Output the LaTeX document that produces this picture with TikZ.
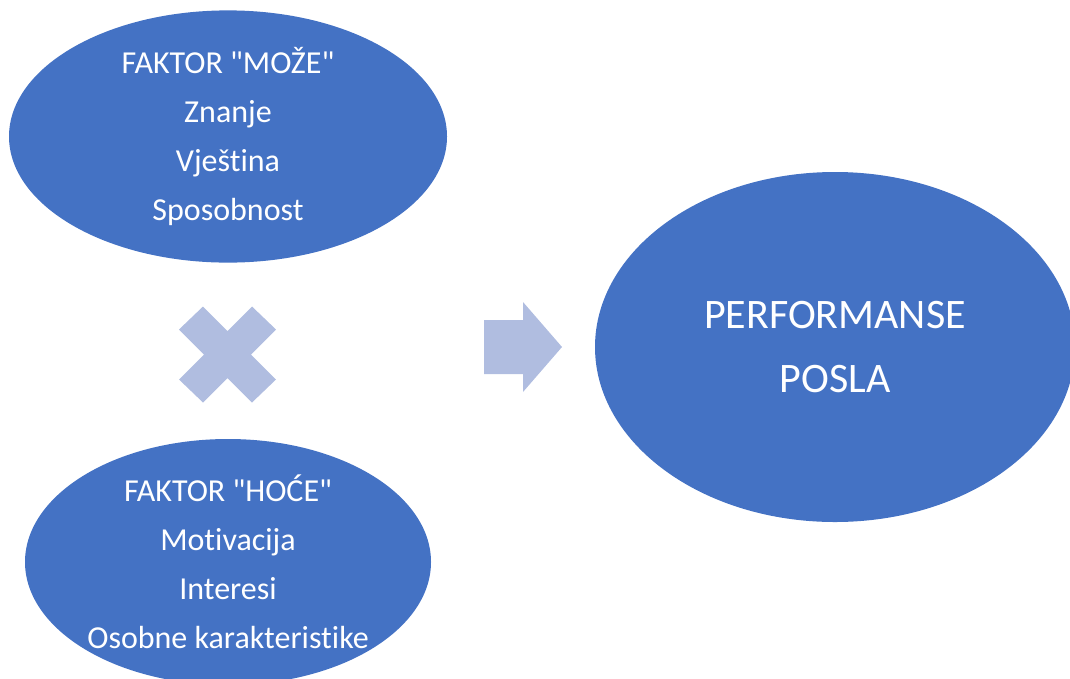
\documentclass[tikz,border=0pt]{standalone}
\usepackage{fontspec}
\setmainfont{Carlito}[Ligatures=NoCommon]
\usepackage{xcolor}
\usetikzlibrary{shapes.geometric}
\definecolor{ovalblue}{HTML}{4472C4}
\definecolor{paleblue}{HTML}{B0BDE0}

\begin{document}
\begin{tikzpicture}[x=1pt,y=-1pt,
  oval/.style={ellipse,fill=ovalblue,text=white,inner sep=0pt,align=center},
  smalltext/.style={font=\fontsize{32}{49}\selectfont},
  bigtext/.style={font=\fontsize{42}{64}\selectfont}]

  \useasboundingbox (0,0) rectangle (1070,678);

  % the two factors on the left
  \node[oval,smalltext,minimum width=438pt,minimum height=247pt] at (228,136.5) (moze)
    {FAKTOR \textquotedbl MOŽE\textquotedbl\\Znanje\\Vještina\\Sposobnost};
  \node[oval,smalltext,minimum width=406pt,minimum height=229pt] at (228,562) (hoce)
    {FAKTOR \textquotedbl HOĆE\textquotedbl\\Motivacija\\Interesi\\Osobne karakteristike};

  % result on the right
  \node[oval,bigtext,minimum width=480pt,minimum height=350pt] at (835,347) (perf)
    {PERFORMANSE\\POSLA};

  % times sign between the factors
  \coordinate (puta) at (227.5,354.5);
  \begin{scope}[shift={(puta)}]
    \fill[paleblue] (0,-23.5) -- (24.5,-48) -- (48.5,-25) -- (23.5,0) -- (48.5,25)
      -- (24.5,48) -- (0,23.5) -- (-24.5,48) -- (-48.5,25) -- (-23.5,0)
      -- (-48.5,-25) -- (-24.5,-48) -- cycle;
  \end{scope}

  % block arrow towards the result
  \coordinate (strelica) at (484,347);
  \begin{scope}[shift={(strelica)}]
    \fill[paleblue] (0,-27) -- (39,-27) -- (39,-45) -- (78,0) -- (39,45)
      -- (39,27) -- (0,27) -- cycle;
  \end{scope}

\end{tikzpicture}
\end{document}
